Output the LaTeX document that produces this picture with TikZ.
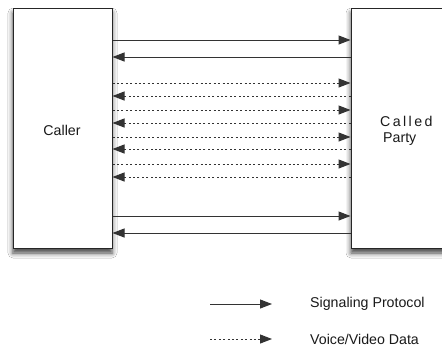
\documentclass[tikz,border=0pt]{standalone}
\usepackage{fontspec}
\setmainfont{Liberation Sans}
\usetikzlibrary{arrows.meta,shadows.blur}
\begin{document}
\begin{tikzpicture}[x=1pt,y=-1pt,
  box/.style={draw=black!85, line width=1pt, fill=white, inner sep=0pt,
    blur shadow={shadow xshift=0pt, shadow yshift=-5pt, shadow blur radius=5pt, shadow opacity=75}},
  sig/.style={draw=black!80, line width=1pt, -{Triangle[length=12pt,width=9pt]}},
  dat/.style={sig, dash pattern=on 2pt off 2.4pt},
  lbl/.style={font=\fontsize{14.2}{17}\selectfont, inner sep=0pt, text=black!90}]
\useasboundingbox[fill=white] (0,0) rectangle (442,349);
% boxes
\node[box, minimum width=99pt, minimum height=240pt] (caller) at (62.5,128) {};
\node[box, minimum width=110pt, minimum height=240pt] (called) at (406,128) {};
\node[lbl] (callertxt) at (62,130) {Caller};
\node[lbl, anchor=west] (calledtxt) at (380,121) {\addfontfeature{LetterSpace=17}Called};
\node[lbl, anchor=west] (partytxt) at (383,139) {Party};
% signaling
\draw[sig] (caller.east |- 0,40) -- (called.west |- 0,40);
\draw[sig] (called.west |- 0,57) -- (caller.east |- 0,57);
% data
\draw[dat] (caller.east |- 0,83) -- (called.west |- 0,83);
\draw[dat] (called.west |- 0,96) -- (caller.east |- 0,96);
\draw[dat] (caller.east |- 0,110) -- (called.west |- 0,110);
\draw[dat] (called.west |- 0,123) -- (caller.east |- 0,123);
\draw[dat] (caller.east |- 0,137) -- (called.west |- 0,137);
\draw[dat] (called.west |- 0,149) -- (caller.east |- 0,149);
\draw[dat] (caller.east |- 0,164) -- (called.west |- 0,164);
\draw[dat] (called.west |- 0,177) -- (caller.east |- 0,177);
% signaling
\draw[sig] (caller.east |- 0,216) -- (called.west |- 0,216);
\draw[sig] (called.west |- 0,233) -- (caller.east |- 0,233);
% legend
\coordinate (ls1) at (210,304);
\coordinate (ls2) at (272,304);
\coordinate (ld1) at (210,339);
\coordinate (ld2) at (272,339);
\draw[sig] (ls1) -- (ls2);
\draw[dat] (ld1) -- (ld2);
\node[lbl, anchor=west] (siglbl) at (310,304) {Signaling Protocol};
\node[lbl, anchor=west] (datlbl) at (310,339) {Voice/Video Data};
\end{tikzpicture}
\end{document}
